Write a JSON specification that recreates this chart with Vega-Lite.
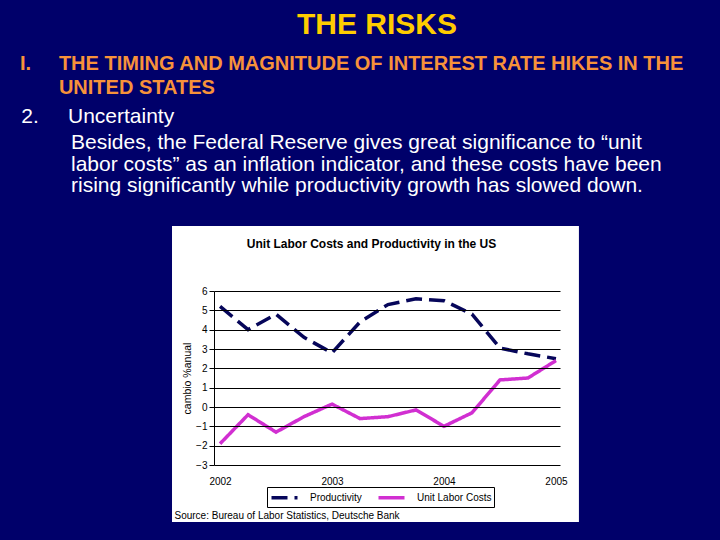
{
  "$schema": "https://vega.github.io/schema/vega-lite/v6.json",
  "width": 346,
  "height": 174,
  "autosize": {"type": "none"},
  "padding": {"left": 214, "top": 291, "right": 160, "bottom": 75},
  "background": "#00006a",
  "title": {
    "text": "THE RISKS",
    "anchor": "middle",
    "frame": "group",
    "dx": -10,
    "offset": 13,
    "font": "Liberation Sans",
    "fontSize": 30,
    "fontWeight": "bold",
    "color": "#FFCC00"
  },
  "config": {
    "font": "Liberation Sans",
    "view": {"stroke": null},
    "axis": {"titleFont": "Liberation Sans", "labelFont": "Liberation Sans"}
  },
  "data": {
    "values": [
      {"period": 2002.00, "series": "Productivity", "value": 5.2},
      {"period": 2002.25, "series": "Productivity", "value": 4.0},
      {"period": 2002.50, "series": "Productivity", "value": 4.8},
      {"period": 2002.75, "series": "Productivity", "value": 3.6},
      {"period": 2003.00, "series": "Productivity", "value": 2.8},
      {"period": 2003.25, "series": "Productivity", "value": 4.4},
      {"period": 2003.50, "series": "Productivity", "value": 5.3},
      {"period": 2003.75, "series": "Productivity", "value": 5.6},
      {"period": 2004.00, "series": "Productivity", "value": 5.5},
      {"period": 2004.25, "series": "Productivity", "value": 4.8},
      {"period": 2004.50, "series": "Productivity", "value": 3.05},
      {"period": 2004.75, "series": "Productivity", "value": 2.75},
      {"period": 2005.00, "series": "Productivity", "value": 2.5},
      {"period": 2002.00, "series": "Unit Labor Costs", "value": -1.9},
      {"period": 2002.25, "series": "Unit Labor Costs", "value": -0.4},
      {"period": 2002.50, "series": "Unit Labor Costs", "value": -1.3},
      {"period": 2002.75, "series": "Unit Labor Costs", "value": -0.5},
      {"period": 2003.00, "series": "Unit Labor Costs", "value": 0.15},
      {"period": 2003.25, "series": "Unit Labor Costs", "value": -0.6},
      {"period": 2003.50, "series": "Unit Labor Costs", "value": -0.5},
      {"period": 2003.75, "series": "Unit Labor Costs", "value": -0.15},
      {"period": 2004.00, "series": "Unit Labor Costs", "value": -1.0},
      {"period": 2004.25, "series": "Unit Labor Costs", "value": -0.3},
      {"period": 2004.50, "series": "Unit Labor Costs", "value": 1.4},
      {"period": 2004.75, "series": "Unit Labor Costs", "value": 1.5},
      {"period": 2005.00, "series": "Unit Labor Costs", "value": 2.4}
    ]
  },
  "layer": [
    {
      "data": {"values": [{"panel": "chart"}]},
      "mark": {"type": "rect", "color": "white", "clip": false},
      "encoding": {
        "x": {
          "datum": 2001.571,
          "type": "quantitative",
          "scale": {"domain": [2001.946, 2005.036], "nice": false, "zero": false},
          "axis": {
            "orient": "top", "zindex": 1, "labels": false, "ticks": false, "domain": false, "grid": false,
            "title": [
              "Besides, the Federal Reserve gives great significance to “unit",
              "labor costs” as an inflation indicator, and these costs have been",
              "rising significantly while productivity growth has slowed down."
            ],
            "titleX": -143.5, "titleY": -142.5, "titleAlign": "left", "titleBaseline": "alphabetic",
            "titleAngle": 0, "titleFontSize": 21, "titleFontWeight": "normal", "titleColor": "white",
            "titleLineHeight": 21.7, "titleLimit": 2000
          }
        },
        "x2": {"datum": 2005.205},
        "y": {
          "datum": 9.362,
          "type": "quantitative",
          "scale": {"domain": [-3, 6], "nice": false, "zero": false},
          "axis": {
            "orient": "left", "zindex": 1, "labels": false, "ticks": false, "domain": false, "grid": false,
            "title": [
              "I.\u00a0\u00a0\u00a0\u00a0\u00a0THE TIMING AND MAGNITUDE OF INTEREST RATE HIKES IN THE",
              "\u2060\u00a0\u00a0\u00a0\u00a0\u00a0\u00a0\u00a0UNITED STATES"
            ],
            "titleX": -194.5, "titleY": -221.7, "titleAlign": "left", "titleBaseline": "alphabetic",
            "titleAngle": 0, "titleFontSize": 20, "titleFontWeight": "bold", "titleColor": "#F7923A",
            "titleLineHeight": 24, "titleLimit": 2000
          }
        },
        "y2": {"datum": -5.948}
      }
    },
    {
      "transform": [{"filter": "datum.series === 'Productivity'"}],
      "mark": {"type": "line", "strokeWidth": 3.5, "strokeCap": "butt"},
      "encoding": {
        "x": {
          "field": "period",
          "type": "quantitative",
          "axis": {
            "orient": "bottom", "zindex": 1, "values": [2002, 2003, 2004, 2005], "format": "d", "labelFlush": false,
            "grid": false, "domain": false, "ticks": false, "tickSize": 0, "labelPadding": 11,
            "labelColor": "black", "labelFontSize": 10,
            "title": "Source: Bureau of Labor Statistics, Deutsche Bank",
            "titleX": -40, "titleY": 50, "titleAlign": "left", "titleBaseline": "middle", "titleAngle": 0,
            "titleFontSize": 10, "titleFontWeight": "normal", "titleColor": "black", "titleLimit": 2000
          }
        },
        "y": {
          "field": "value",
          "type": "quantitative",
          "axis": {
            "orient": "left", "zindex": 1, "values": [-3, -2, -1, 0, 1, 2, 3, 4, 5, 6],
            "grid": true, "gridColor": "black", "gridOpacity": 1, "gridWidth": 1,
            "domain": true, "domainColor": "black", "domainWidth": 1,
            "ticks": true, "tickColor": "black", "tickSize": 5, "tickWidth": 1,
            "labelColor": "black", "labelFontSize": 10, "labelPadding": 2,
            "title": "cambio %anual",
            "titleX": -27, "titleY": 87, "titleAngle": 270, "titleAlign": "center", "titleBaseline": "middle",
            "titleFontSize": 10.5, "titleFontWeight": "normal", "titleColor": "black"
          }
        },
        "color": {
          "field": "series",
          "type": "nominal",
          "scale": {"domain": ["Productivity", "Unit Labor Costs"], "range": ["#06065a", "#d12fd1"]},
          "legend": {
            "orient": "none", "legendX": 53, "legendY": 196, "direction": "horizontal", "title": null,
            "symbolType": "M-2,0H2", "symbolSize": 169, "symbolStrokeWidth": 3.5, "symbolOffset": 7,
            "labelOffset": 17, "labelFontSize": 10, "labelColor": "black", "padding": 2,
            "strokeColor": "black", "fillColor": "white", "columnPadding": 9, "zindex": 1
          }
        },
        "strokeDash": {
          "field": "series",
          "type": "nominal",
          "scale": {"domain": ["Productivity", "Unit Labor Costs"], "range": [[16, 7], [1, 0]]}
        }
      }
    },
    {
      "transform": [{"filter": "datum.series === 'Unit Labor Costs'"}],
      "mark": {"type": "line", "strokeWidth": 3.5, "strokeCap": "butt"},
      "encoding": {
        "x": {
          "field": "period",
          "type": "quantitative",
          "axis": {
            "orient": "top", "zindex": 1, "labels": false, "ticks": false, "domain": false, "grid": false,
            "title": "Unit Labor Costs and Productivity in the US",
            "titleX": 157, "titleY": -43.7, "titleAlign": "center", "titleBaseline": "alphabetic", "titleAngle": 0,
            "titleFontSize": 12, "titleFontWeight": "bold", "titleColor": "black", "titleLimit": 2000
          }
        },
        "y": {
          "field": "value",
          "type": "quantitative",
          "axis": {
            "orient": "left", "zindex": 1, "labels": false, "ticks": false, "domain": false, "grid": false,
            "title": "2.\u00a0\u00a0\u00a0\u00a0\u00a0Uncertainty",
            "titleX": -193.2, "titleY": -168.7, "titleAlign": "left", "titleBaseline": "alphabetic", "titleAngle": 0,
            "titleFontSize": 21, "titleFontWeight": "normal", "titleColor": "white", "titleLimit": 2000
          }
        },
        "color": {"field": "series", "type": "nominal"},
        "strokeDash": {"field": "series", "type": "nominal"}
      }
    }
  ],
  "resolve": {"axis": {"x": "independent", "y": "independent"}}
}
